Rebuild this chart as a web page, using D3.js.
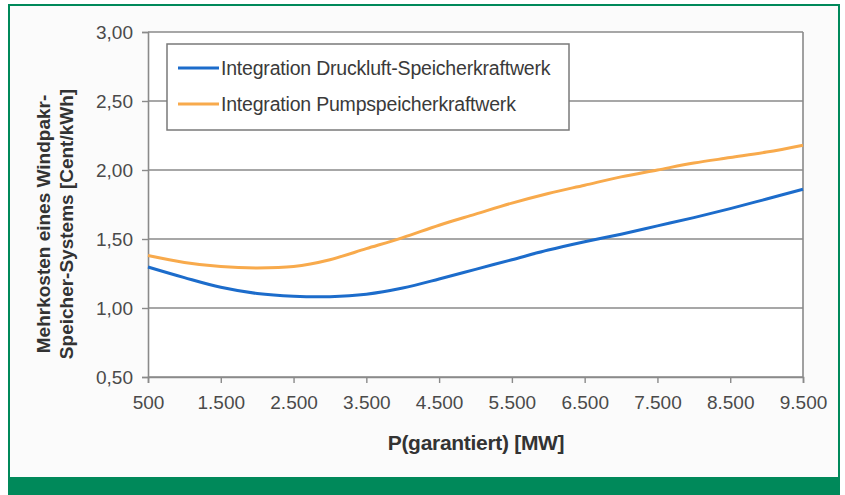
<!DOCTYPE html>
<html>
<head>
<meta charset="utf-8">
<script src="https://cdn.jsdelivr.net/npm/d3@7"></script>
<style>
  html, body { margin: 0; padding: 0; background: #ffffff; }
  svg { display: block; }
</style>
</head>
<body>
<svg id="chart" width="845" height="495"></svg>
<script>
// Guaranteed power output [MW]
const powerMW = [500, 1000, 1500, 2000, 2500, 3000, 3500, 4000, 4500, 5000,
                 5500, 6000, 6500, 7000, 7500, 8000, 8500, 9000, 9500];
// Extra cost of a wind-park storage system [Cent/kWh]
const druckluftCost = [1.297, 1.22, 1.15, 1.105, 1.085, 1.082, 1.10, 1.145, 1.21, 1.28,
                       1.35, 1.42, 1.48, 1.535, 1.595, 1.655, 1.72, 1.79, 1.86];
const pumpCost = [1.38, 1.33, 1.30, 1.29, 1.30, 1.35, 1.43, 1.51, 1.60, 1.68,
                  1.76, 1.83, 1.89, 1.95, 2.00, 2.05, 2.09, 2.13, 2.18];
const seriesNames = ["Integration Druckluft-Speicherkraftwerk", "Integration Pumpspeicherkraftwerk"];
const xTicks = [500, 1500, 2500, 3500, 4500, 5500, 6500, 7500, 8500, 9500];
const yTicks = [0.5, 1.0, 1.5, 2.0, 2.5, 3.0];

const svg = d3.select("#chart");
const W = 845, H = 495;
const green = "#00895a";
const gray = "#8a8a8a";
const font = "Liberation Sans, Arial, sans-serif";

// frame
svg.append("rect").attr("x", 0).attr("y", 0).attr("width", W).attr("height", H).attr("fill", "#ffffff");
svg.append("rect").attr("x", 9).attr("y", 5).attr("width", 830).attr("height", 478)
  .attr("fill", "#fbfbfb").attr("stroke", green).attr("stroke-width", 2);
svg.append("rect").attr("x", 8).attr("y", 477).attr("width", 832).attr("height", 18).attr("fill", green);

const m = { left: 148, right: 803, top: 32, bottom: 377 };
const x = d3.scaleLinear().domain([500, 9500]).range([m.left, m.right]);
const y = d3.scaleLinear().domain([0.5, 3.0]).range([m.bottom, m.top]);

// plot background
svg.append("rect").attr("x", m.left).attr("y", m.top)
  .attr("width", m.right - m.left).attr("height", m.bottom - m.top).attr("fill", "#ffffff");

// gridlines
svg.append("g").selectAll("line").data(yTicks).join("line")
  .attr("x1", m.left).attr("x2", m.right)
  .attr("y1", d => y(d)).attr("y2", d => y(d))
  .attr("stroke", gray).attr("stroke-width", 1.6);

// right frame edge
svg.append("line").attr("x1", m.right).attr("x2", m.right).attr("y1", m.top).attr("y2", m.bottom)
  .attr("stroke", gray).attr("stroke-width", 1.6);

const fmtY = d => d3.format(".2f")(d).replace(".", ",");
const fmtX = d => d3.format(",")(d).replace(",", ".");

const yAxis = d3.axisLeft(y).tickValues(yTicks).tickFormat(fmtY).tickSize(6).tickPadding(9);
const gy = svg.append("g").attr("transform", `translate(${m.left},0)`).call(yAxis);
const xAxis = d3.axisBottom(x).tickValues(xTicks).tickFormat(fmtX).tickSize(6).tickPadding(13);
const gx = svg.append("g").attr("transform", `translate(0,${m.bottom})`).call(xAxis);

[gy, gx].forEach(g => {
  g.select(".domain").attr("stroke", gray).attr("stroke-width", 1.6);
  g.selectAll(".tick line").attr("stroke", gray).attr("stroke-width", 1.4);
  g.selectAll(".tick text")
    .attr("font-family", font)
    .attr("font-size", 19).attr("fill", "#4a4a4a");
});

// series
const line = d3.line().x(d => x(d[0])).y(d => y(d[1])).curve(d3.curveCatmullRom.alpha(0.5));
const series = [
  { name: seriesNames[0], values: druckluftCost, color: "#1c6ccb" },
  { name: seriesNames[1], values: pumpCost, color: "#f8aa4c" }
];
series.slice().reverse().forEach(s => {
  svg.append("path")
    .datum(powerMW.map((p, i) => [p, s.values[i]]))
    .attr("fill", "none").attr("stroke", s.color).attr("stroke-width", 3)
    .attr("stroke-linejoin", "round")
    .attr("d", line);
});

// legend
const lg = svg.append("g");
lg.append("rect").attr("x", 167).attr("y", 44).attr("width", 402).attr("height", 86)
  .attr("fill", "#ffffff").attr("stroke", "#7a7a7a").attr("stroke-width", 1.5);
series.forEach((s, i) => {
  const ly = 68 + i * 36;
  lg.append("line").attr("x1", 178).attr("x2", 219).attr("y1", ly).attr("y2", ly)
    .attr("stroke", s.color).attr("stroke-width", 3);
  lg.append("text").attr("x", 221).attr("y", ly).attr("dy", "0.35em")
    .attr("font-family", font).attr("font-size", 19.5)
    .attr("fill", "#3a3a3a").attr("letter-spacing", -0.2)
    .text(s.name);
});

// axis titles
svg.append("text").attr("x", 476).attr("y", 443).attr("dy", "0.35em")
  .attr("text-anchor", "middle")
  .attr("font-family", font).attr("font-size", 21)
  .attr("font-weight", "bold").attr("fill", "#333333").attr("letter-spacing", -0.3)
  .text("P(garantiert) [MW]");

const yt = svg.append("text").attr("transform", "translate(55,224) rotate(-90)")
  .attr("text-anchor", "middle")
  .attr("font-family", font).attr("font-size", 19)
  .attr("font-weight", "bold").attr("fill", "#333333");
yt.append("tspan").attr("x", 0).attr("dy", "-0.25em").text("Mehrkosten eines Windpakr-");
yt.append("tspan").attr("x", 0).attr("dy", "1.2em").text("Speicher-Systems [Cent/kWh]");
</script>
</body>
</html>
